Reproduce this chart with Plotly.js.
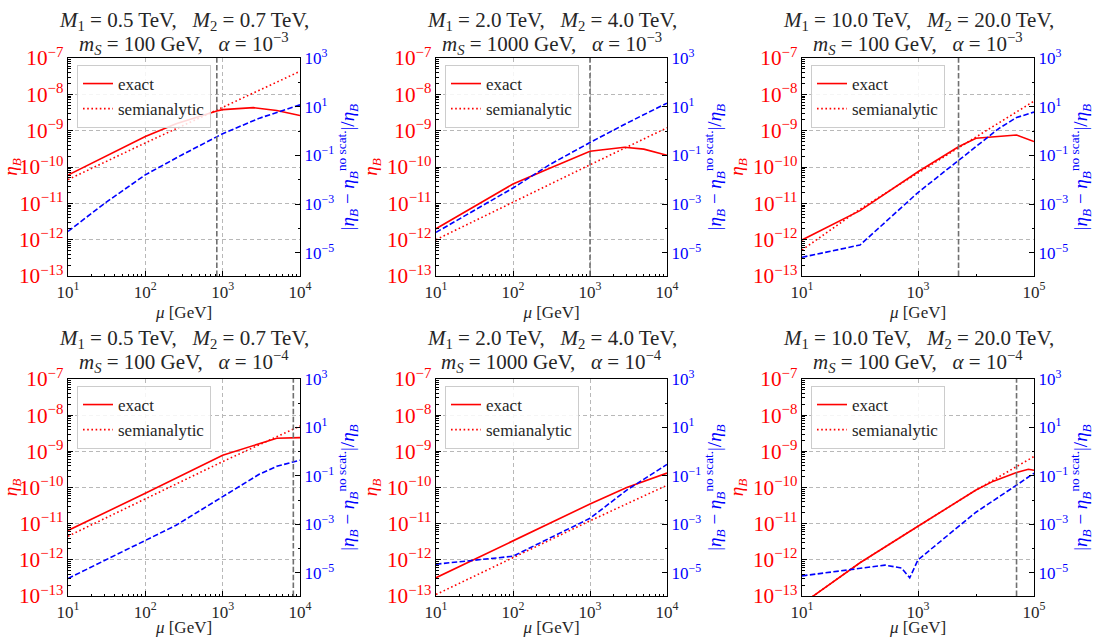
<!DOCTYPE html>
<html><head><meta charset="utf-8">
<script src="https://cdn.plot.ly/plotly-3.0.1.min.js"></script>
<style>html,body{margin:0;padding:0;background:#fff}#chart{width:1094px;height:637px}</style>
</head><body><div id="chart"></div><script>
// ---- panel parameters (titles) ----
const M1 = ['0.5', '2.0', '10.0', '0.5', '2.0', '10.0'];
const M2 = ['0.7', '4.0', '20.0', '0.7', '4.0', '20.0'];
const mS = ['100', '1000', '100', '100', '1000', '100'];
const alphaExp = ['3', '3', '3', '4', '4', '4'];
const xMax = [1e4, 1e4, 1e5, 1e4, 1e4, 1e5];
const vLines = [840, 1000, 5000, 8200, null, 50000];

// ---- tick labels ----
const xTickVals = [10, 100, 1000, 10000];
const xTickText = ['10<sup>1</sup>', '10<sup>2</sup>', '10<sup>3</sup>', '10<sup>4</sup>'];
const xTickValsWide = [10, 1000, 100000];
const xTickTextWide = ['10<sup>1</sup>', '10<sup>3</sup>', '10<sup>5</sup>'];
const rTickVals = [1e-5, 1e-3, 1e-1, 10, 1000];
const rTickText = ['10<sup>\u22125</sup>', '10<sup>\u22123</sup>', '10<sup>\u22121</sup>', '10<sup>1</sup>', '10<sup>3</sup>'];

// ---- panel 1: M1=0.5, alpha=1e-3 ----
const p1ExactX = [10, 20, 50, 100, 250, 500, 840, 1000, 2500, 5000, 10000];
const p1ExactY = [6.0e-11, 1.25e-10, 3.3e-10, 6.9e-10, 1.55e-9, 2.5e-9, 3.5e-9, 3.8e-9, 4.3e-9, 3.6e-9, 2.6e-9];
const p1SemiX = [10, 100, 1000, 10000];
const p1SemiY = [4.5e-11, 4.6e-10, 4.4e-9, 4.3e-8];
const p1DiffX = [10, 30, 100, 300, 1000, 3000, 10000];
const p1DiffY = [7.6e-5, 1.1e-3, 0.016, 0.107, 0.78, 3.4, 12];

// ---- panel 2: M1=2.0, alpha=1e-3 ----
const p2ExactX = [10, 100, 300, 1000, 2800, 5000, 10000];
const p2ExactY = [2.0e-12, 3.4e-11, 9.3e-11, 2.7e-10, 3.5e-10, 3.1e-10, 2.1e-10];
const p2SemiX = [10, 100, 1000, 10000];
const p2SemiY = [1.0e-12, 1.1e-11, 1.15e-10, 1.2e-9];
const p2DiffX = [10, 100, 300, 1000, 3000, 10000];
const p2DiffY = [6.9e-5, 4.6e-3, 0.042, 0.34, 2.1, 14];

// ---- panel 3: M1=10, alpha=1e-3 ----
const p3ExactX = [10, 100, 1000, 5000, 10000, 50000, 100000];
const p3ExactY = [9.8e-13, 6.3e-12, 7.4e-11, 3.6e-10, 6.2e-10, 7.6e-10, 5.0e-10];
const p3SemiX = [10, 100, 1000, 10000, 100000];
const p3SemiY = [5.2e-13, 6.9e-12, 6.9e-11, 6.6e-10, 6.5e-9];
const p3DiffX = [10, 100, 1000, 5000, 10000, 25000, 50000, 100000];
const p3DiffY = [6.6e-6, 2.1e-5, 3.0e-3, 0.063, 0.22, 1.3, 3.6, 6.0];

// ---- panel 4: M1=0.5, alpha=1e-4 ----
const p4ExactX = [10, 100, 1000, 2700, 5000, 10000];
const p4ExactY = [6.5e-12, 6.9e-11, 7.8e-10, 1.5e-9, 2.3e-9, 2.4e-9];
const p4SemiX = [10, 100, 1000, 10000];
const p4SemiY = [4.5e-12, 4.8e-11, 5.2e-10, 5.0e-9];
const p4DiffX = [10, 100, 250, 1000, 3000, 5000, 10000];
const p4DiffY = [5.9e-6, 2.2e-4, 9.3e-4, 0.014, 0.12, 0.25, 0.45];

// ---- panel 5: M1=2.0, alpha=1e-4 ----
const p5ExactX = [10, 100, 1000, 3000, 5000, 10000];
const p5ExactY = [3.2e-13, 3.3e-12, 3.5e-11, 1.0e-10, 1.5e-10, 2.5e-10];
const p5SemiX = [10, 100, 1000, 10000];
const p5SemiY = [1.1e-13, 1.15e-12, 1.2e-11, 1.15e-10];
const p5DiffX = [10, 30, 100, 1000, 3000, 10000];
const p5DiffY = [2.3e-5, 3.3e-5, 4.9e-5, 1.8e-3, 0.026, 0.30];

// ---- panel 6: M1=10, alpha=1e-4 ----
const p6ExactX = [10, 100, 1000, 10000, 20000, 30000, 50000, 80000, 100000];
const p6ExactY = [6.0e-14, 8.3e-13, 8.5e-12, 8.5e-11, 1.5e-10, 1.95e-10, 2.6e-10, 3.2e-10, 3.0e-10];
const p6SemiX = [10, 100, 1000, 10000, 100000];
const p6SemiY = [6.0e-14, 8.3e-13, 8.5e-12, 8.5e-11, 7.2e-10];
const p6DiffX = [10, 100, 270, 520, 720, 1000, 10000, 50000, 100000];
const p6DiffY = [7.6e-6, 1.5e-5, 2.1e-5, 1.6e-5, 6.3e-6, 3.5e-5, 3.2e-3, 0.042, 0.13];

const panels = [
  [p1ExactX, p1ExactY, p1SemiX, p1SemiY, p1DiffX, p1DiffY],
  [p2ExactX, p2ExactY, p2SemiX, p2SemiY, p2DiffX, p2DiffY],
  [p3ExactX, p3ExactY, p3SemiX, p3SemiY, p3DiffX, p3DiffY],
  [p4ExactX, p4ExactY, p4SemiX, p4SemiY, p4DiffX, p4DiffY],
  [p5ExactX, p5ExactY, p5SemiX, p5SemiY, p5DiffX, p5DiffY],
  [p6ExactX, p6ExactY, p6SemiX, p6SemiY, p6DiffX, p6DiffY]
];

// ---- layout geometry (pixels) ----
const W = 1094, H = 637;
const colL = [68, 436, 802], colR = [300, 667, 1034];
const rowT = [58, 379], rowB = [276, 596];
const FONT = 'Liberation Serif, DejaVu Serif, serif';
const RED = '#ff0000', BLUE = '#0000ff';
const TXT = '#262626';

const traces = [];
const layout = {
  width: W, height: H, margin: {l: 0, r: 0, t: 0, b: 0},
  paper_bgcolor: '#fff', plot_bgcolor: '#fff',
  font: {family: FONT, size: 16, color: TXT},
  annotations: [], shapes: []
};

for (let k = 1; k <= 6; k++) {
  const i = k - 1, c = i % 3, r = Math.floor(i / 3);
  const xn = k === 1 ? 'x' : 'x' + k;
  const yn = k === 1 ? 'y' : 'y' + k;
  const yrn = 'y' + (k + 6);
  const lg = k === 1 ? 'legend' : 'legend' + k;
  const wide = xMax[i] === 1e5;
  const d = panels[i];

  traces.push({x: d[0], y: d[1], xaxis: xn, yaxis: yn, mode: 'lines', name: 'exact',
    legend: lg, line: {color: RED, width: 1.6}});
  traces.push({x: d[2], y: d[3], xaxis: xn, yaxis: yn, mode: 'lines', name: 'semianalytic',
    legend: lg, line: {color: RED, width: 1.6, dash: '1.6px,2.6px'}});
  traces.push({x: d[4], y: d[5], xaxis: xn, yaxis: yrn, mode: 'lines', name: 'difference',
    showlegend: false, line: {color: BLUE, width: 1.6, dash: '5.5px,2.4px'}});

  const xdom = [colL[c] / W, colR[c] / W];
  const ydom = [1 - rowB[r] / H, 1 - rowT[r] / H];

  layout['xaxis' + (k === 1 ? '' : k)] = {
    domain: xdom, anchor: yn, type: 'log', range: [1, wide ? 5 : 4],
    tickmode: 'array', tickvals: wide ? xTickValsWide : xTickVals, ticktext: wide ? xTickTextWide : xTickText,
    ticks: 'inside', ticklen: 5, tickwidth: 1, tickcolor: '#000',
    minor: wide ? {tickmode: 'linear', tick0: 0, dtick: 1, ticks: 'inside', ticklen: 2.5, tickcolor: '#000', showgrid: false}
                : {tickmode: 'linear', tick0: 0, dtick: 'D1', ticks: 'inside', ticklen: 2.5, tickcolor: '#000', showgrid: false},
    showline: true, mirror: true, linecolor: '#000', linewidth: 1.2,
    showgrid: true, gridcolor: '#b8b8b8', griddash: '4px,3px', gridwidth: 1, zeroline: false,
    tickfont: {family: FONT, size: 17, color: TXT},
    title: {text: '<i>μ</i> [GeV]', font: {family: FONT, size: 17, color: TXT}, standoff: 5},
    automargin: false
  };
  layout['yaxis' + (k === 1 ? '' : k)] = {
    domain: ydom, anchor: xn, type: 'log', range: [-13, -7],
    tickmode: 'linear', tick0: 0, dtick: 1, exponentformat: 'power',
    ticks: 'inside', ticklen: 5, tickwidth: 1, tickcolor: '#000',
    minor: {tickmode: 'linear', tick0: 0, dtick: 'D1', ticks: 'inside', ticklen: 2.5, tickcolor: '#000', showgrid: false},
    showline: true, linecolor: '#000', linewidth: 1.2,
    showgrid: true, gridcolor: '#b8b8b8', griddash: '4px,3px', gridwidth: 1, zeroline: false,
    tickfont: {family: FONT, size: 17, color: RED},
    title: {text: '<i>η<sub>B</sub></i>', font: {family: FONT, size: 19, color: RED}, standoff: 4},
    automargin: false
  };
  layout['yaxis' + (k + 6)] = {
    overlaying: yn, anchor: xn, side: 'right', type: 'log', range: [-5.95, 3],
    tickmode: 'array', tickvals: rTickVals, ticktext: rTickText,
    ticks: 'inside', ticklen: 5, tickwidth: 1, tickcolor: '#000',
    minor: {tickmode: 'linear', tick0: 0, dtick: 1, ticks: 'inside', ticklen: 2.5, tickcolor: '#000', showgrid: false},
    showline: true, linecolor: '#000', linewidth: 1.2, showgrid: false, zeroline: false,
    tickfont: {family: FONT, size: 17, color: BLUE},
    title: {text: '|<i>η<sub>B</sub></i> − <i>η<sub>B</sub></i><sup>no scat.</sup>|/<i>η<sub>B</sub></i>',
      font: {family: FONT, size: 19, color: BLUE}, standoff: 4},
    automargin: false
  };
  layout[lg] = {
    x: (colL[c] + 9) / W, y: 1 - (rowT[r] + 7) / H, xanchor: 'left', yanchor: 'top',
    xref: 'paper', yref: 'paper',
    bgcolor: 'rgba(255,255,255,0.85)', bordercolor: '#cccccc', borderwidth: 1,
    font: {family: FONT, size: 17, color: TXT}, tracegroupgap: 0
  };

  const cx = (colL[c] + colR[c]) / 2 / W;
  const yTop = r === 0 ? 21 : 339, yMid = r === 0 ? 43 : 361;
  layout.annotations.push({
    xref: 'paper', yref: 'paper', x: cx, y: 1 - yTop / H, xanchor: 'center', yanchor: 'middle', showarrow: false,
    text: '<i>M</i><sub>1</sub> = ' + M1[i] + ' TeV,\u2002 <i>M</i><sub>2</sub> = ' + M2[i] + ' TeV,',
    font: {family: FONT, size: 21, color: TXT}
  });
  layout.annotations.push({
    xref: 'paper', yref: 'paper', x: cx, y: 1 - yMid / H, xanchor: 'center', yanchor: 'middle', showarrow: false,
    text: '<i>m<sub>S</sub></i> = ' + mS[i] + ' GeV,\u2002 <i>α</i> = 10<sup>\u2212' + alphaExp[i] + '</sup>',
    font: {family: FONT, size: 21, color: TXT}
  });

  if (vLines[i] !== null) {
    layout.shapes.push({type: 'line', xref: xn, yref: yn + ' domain', x0: vLines[i], x1: vLines[i], y0: 0, y1: 1,
      line: {color: '#707070', width: 1.6, dash: '5.5px,2.4px'}, layer: 'above'});
  }
}

Plotly.newPlot('chart', traces, layout, {displayModeBar: false, staticPlot: true});
</script></body></html>
